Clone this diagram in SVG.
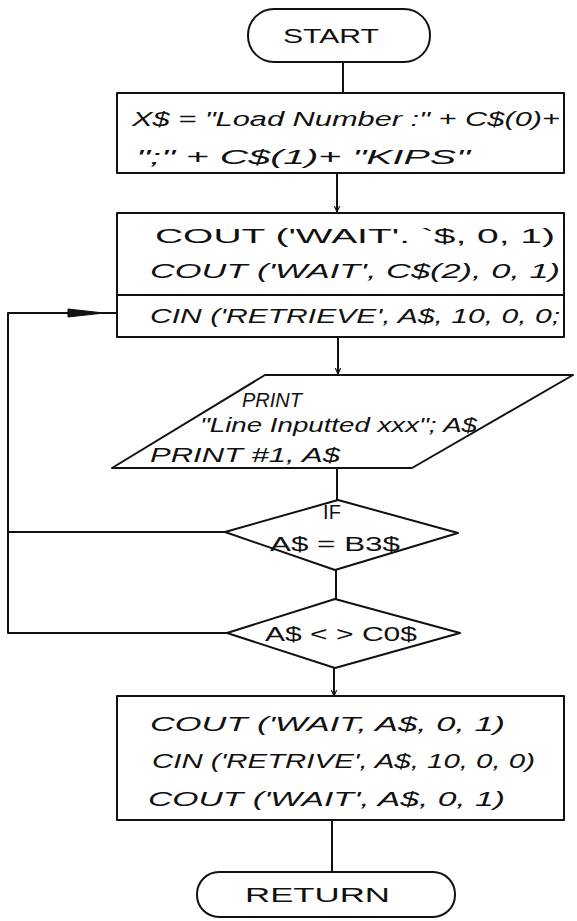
<svg xmlns="http://www.w3.org/2000/svg" width="577" height="921" viewBox="0 0 577 921">
<style>
.s{fill:none;stroke:#111;stroke-width:2;stroke-linejoin:round;stroke-linecap:round}
.t{font-family:"Liberation Sans",Arial,sans-serif;fill:#111;font-size:20px}
.i{font-style:italic}
</style>
<defs>
<marker id="ah" viewBox="0 0 10 10" refX="9" refY="5" markerWidth="7" markerHeight="7" orient="auto" markerUnits="userSpaceOnUse">
<path d="M0,1 L9,5 L0,9" fill="none" stroke="#111" stroke-width="1.6"/>
</marker>
</defs>
<rect width="577" height="921" fill="#fff"/>
<g id="connectors">
<path class="s" d="M343,62 V93"/>
<path class="s" d="M337,173 V212" marker-end="url(#ah)"/>
<path class="s" d="M338,337 V374" marker-end="url(#ah)"/>
<path class="s" d="M337,468 V500"/>
<path class="s" d="M336,570 V599"/>
<path class="s" d="M334,668 V696" marker-end="url(#ah)"/>
<path class="s" d="M332,820 V871"/>
<path class="s" d="M225,532 H8 M227,633 H8 M8,313 V633 M8,313 H117"/>
<path d="M68,309 L104,313 L68,317 Z" fill="#111" stroke="#111" stroke-width="1"/>
</g>
<g id="start">
<rect class="s" x="248" y="9" width="182" height="53" rx="26"/>
<text class="t" x="331" y="43" text-anchor="middle" font-size="21" textLength="96" lengthAdjust="spacingAndGlyphs">START</text>
</g>
<g id="assign">
<rect class="s" x="117" y="93" width="447" height="80"/>
<text class="t i" x="132" y="126" textLength="428" lengthAdjust="spacingAndGlyphs">X$ = "Load Number :" + C$(0)+</text>
<text class="t i" x="136" y="164" textLength="334" lengthAdjust="spacingAndGlyphs">";" + C$(1)+ "KIPS"</text>
</g>
<g id="io">
<rect class="s" x="117" y="213" width="447" height="124"/>
<line class="s" x1="117" y1="295" x2="564" y2="295" stroke-width="3"/>
<text class="t" x="155" y="243" textLength="400" lengthAdjust="spacingAndGlyphs">COUT ('WAIT'. `$, 0, 1)</text>
<text class="t i" x="150" y="278" textLength="410" lengthAdjust="spacingAndGlyphs">COUT ('WAIT', C$(2), 0, 1)</text>
<text class="t i" x="150" y="323" textLength="410" lengthAdjust="spacingAndGlyphs">CIN ('RETRIEVE', A$, 10, 0, 0;</text>
</g>
<g id="print">
<polygon class="s" points="265,375 573,375 412,468 112,468"/>
<text class="t i" x="242" y="407" font-size="17" textLength="60" lengthAdjust="spacingAndGlyphs">PRINT</text>
<text class="t i" x="200" y="432" font-size="18" textLength="277" lengthAdjust="spacingAndGlyphs">"Line Inputted xxx"; A$</text>
<text class="t i" x="150" y="462" font-size="20" textLength="190" lengthAdjust="spacingAndGlyphs">PRINT #1, A$</text>
</g>
<g id="if1">
<polygon class="s" points="338,500 458,533 335,570 225,532"/>
<text class="t" x="332" y="519" font-size="14" text-anchor="middle">IF</text>
<text class="t" x="270" y="551" font-size="22" textLength="130" lengthAdjust="spacingAndGlyphs">A$ = B3$</text>
</g>
<g id="if2">
<polygon class="s" points="335,599 460,633 335,668 227,633"/>
<text class="t" x="265" y="641" font-size="20" textLength="152" lengthAdjust="spacingAndGlyphs">A$ &lt; &gt; C0$</text>
</g>
<g id="io2">
<rect class="s" x="117" y="696" width="447" height="124"/>
<text class="t i" x="150" y="731" font-size="21" textLength="355" lengthAdjust="spacingAndGlyphs">COUT ('WAIT, A$, 0, 1)</text>
<text class="t i" x="152" y="768" font-size="19" textLength="383" lengthAdjust="spacingAndGlyphs">CIN ('RETRIVE', A$, 10, 0, 0)</text>
<text class="t i" x="148" y="806" font-size="21" textLength="357" lengthAdjust="spacingAndGlyphs">COUT ('WAIT', A$, 0, 1)</text>
</g>
<g id="return">
<rect class="s" x="197" y="872" width="258" height="45" rx="22"/>
<text class="t" x="245" y="902" font-size="22" textLength="145" lengthAdjust="spacingAndGlyphs">RETURN</text>
</g>
</svg>
